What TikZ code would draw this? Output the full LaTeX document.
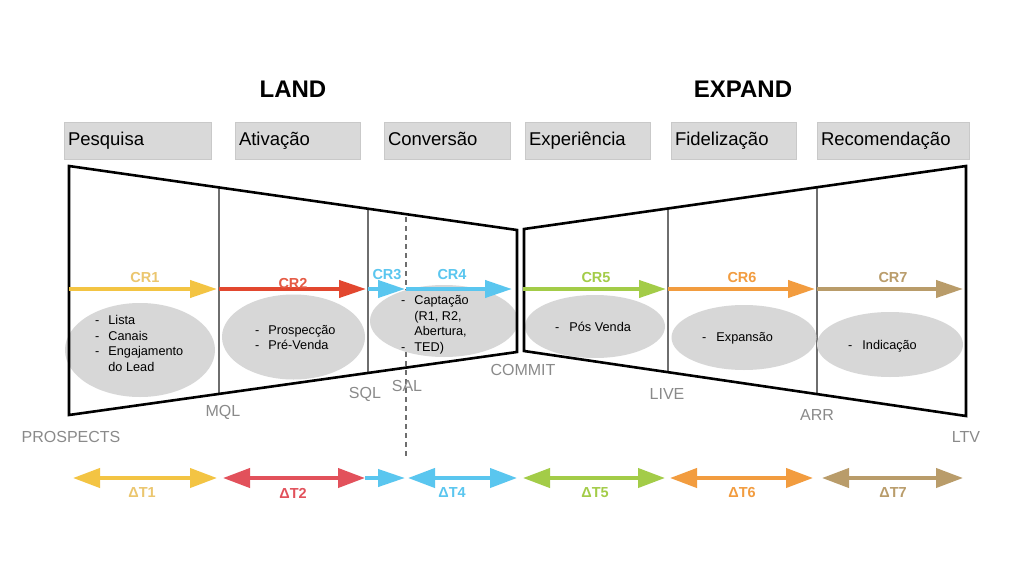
\documentclass[tikz,border=0pt]{standalone}
\usepackage{fontspec}
\setmainfont{Liberation Sans}
\usetikzlibrary{arrows.meta,calc,shapes.geometric}
\definecolor{cyel}{HTML}{F3C443}
\definecolor{cyelL}{HTML}{EBC66E}
\definecolor{cred}{HTML}{E2472F}
\definecolor{cpink}{HTML}{E2515B}
\definecolor{cblue}{HTML}{5AC6EF}
\definecolor{cgreen}{HTML}{A3CC48}
\definecolor{corange}{HTML}{F29C3F}
\definecolor{ctan}{HTML}{B99C6A}
\definecolor{boxgray}{HTML}{D9D9D9}
\definecolor{boxline}{HTML}{C9C9C9}
\definecolor{ellgray}{HTML}{D7D7D7}
\definecolor{divgray}{HTML}{6E6E6E}
\definecolor{lblgray}{HTML}{8A8A8A}
\tikzset{
  phasebox/.style={rectangle, fill=boxgray, draw=boxline, line width=0.6pt,
    minimum height=37pt, inner xsep=4pt, inner ysep=0pt, align=left,
    text height=14pt, text depth=4pt,
    font=\fontsize{18.5}{22}\selectfont},
  titletext/.style={font=\fontsize{24}{28}\selectfont\bfseries},
  funnel/.style={draw=black, line width=2.6pt, line join=miter},
  divider/.style={draw=divgray, line width=2pt},
  saldash/.style={draw=divgray, line width=1.5pt, dash pattern=on 5pt off 4pt},
  bubble/.style={ellipse, fill=ellgray, draw=none, inner sep=0pt},
  bubtext/.style={font=\fontsize{12.7}{15.5}\selectfont, inner sep=0pt, anchor=west},
  crarrow/.style={line width=4pt, -{Triangle[length=27pt,width=17pt]}},
  dtarrow/.style={line width=4pt, {Triangle[length=27pt,width=19pt]}-{Triangle[length=27pt,width=19pt]}},
  crlabel/.style={font=\fontsize{14.5}{16}\selectfont\bfseries, inner sep=0pt},
  stagelabel/.style={font=\fontsize{16}{18}\selectfont, text=lblgray, inner sep=0pt},
}
\begin{document}
\begin{tikzpicture}[x=1pt,y=-1pt]
\useasboundingbox[fill=white] (0,0) rectangle (1024,575);

% titles
\node[titletext] (land) at (293,89) {LAND};
\node[titletext] (expand) at (743,89) {EXPAND};

% phase boxes
\node[phasebox, minimum width=147pt, text width=139pt] (pesq) at (137.5,140.5) {Pesquisa};
\node[phasebox, minimum width=125pt, text width=117pt] (ativ) at (297.5,140.5) {Ativação};
\node[phasebox, minimum width=126pt, text width=118pt] (conv) at (447,140.5) {Conversão};
\node[phasebox, minimum width=125pt, text width=117pt] (expe) at (587.5,140.5) {Experiência};
\node[phasebox, minimum width=125pt, text width=117pt] (fide) at (733.5,140.5) {Fidelização};
\node[phasebox, minimum width=152pt, text width=144pt] (reco) at (893,140.5) {Recomendação};

% funnel corners
\coordinate (LTL) at (69,166);
\coordinate (LTR) at (517,230);
\coordinate (LBR) at (517,352);
\coordinate (LBL) at (69,415);
\coordinate (RTL) at (524,229);
\coordinate (RTR) at (966,166);
\coordinate (RBR) at (966,416);
\coordinate (RBL) at (524,351);

% dividers
\draw[divider] ($(LTL)!0.3348!(LTR)$) -- ($(LBL)!0.3348!(LBR)$);
\draw[divider] ($(LTL)!0.6674!(LTR)$) -- ($(LBL)!0.6674!(LBR)$);
\draw[divider] ($(RTL)!0.3258!(RTR)$) -- ($(RBL)!0.3258!(RBR)$);
\draw[divider] ($(RTL)!0.6629!(RTR)$) -- ($(RBL)!0.6629!(RBR)$);

% SAL dashed line
\coordinate (salT) at (406,217);
\coordinate (salB) at (406,458);
\draw[saldash] (salT) -- (salB);

% bubbles
\node[bubble, minimum width=150pt, minimum height=94pt] (e1) at (140,350) {};
\node[bubble, minimum width=143pt, minimum height=85pt] (e2) at (293.5,337) {};
\node[bubble, minimum width=148pt, minimum height=72pt] (e3) at (444,321) {};
\node[bubble, minimum width=140pt, minimum height=63pt] (e4) at (595,326.5) {};
\node[bubble, minimum width=145pt, minimum height=65pt] (e5) at (744,337.5) {};
\node[bubble, minimum width=146pt, minimum height=65pt] (e6) at (890,344.5) {};

\node[bubtext] (t1) at (95,345) {\begin{tabular}{@{}l@{\hspace{9pt}}l@{}}-&Lista\\-&Canais\\-&Engajamento\\&do Lead\end{tabular}};
\node[bubtext] (t2) at (255,339) {\begin{tabular}{@{}l@{\hspace{9pt}}l@{}}-&Prospecção\\-&Pré-Venda\end{tabular}};
\node[bubtext] (t3) at (401,325) {\begin{tabular}{@{}l@{\hspace{9pt}}l@{}}-&Captação\\&(R1, R2,\\&Abertura,\\-&TED)\end{tabular}};
\node[bubtext] (t4) at (555,327) {-\hspace{10pt}Pós Venda};
\node[bubtext] (t5) at (702,338) {-\hspace{10pt}Expansão};
\node[bubtext] (t6) at (848,346) {-\hspace{10pt}Indicação};

% funnel outlines
\draw[funnel] (LTL) -- (LTR) -- (LBR) -- (LBL) -- cycle;
\draw[funnel] (RTL) -- (RTR) -- (RBR) -- (RBL) -- cycle;

% CR arrows
\coordinate (c0) at (69,289);
\coordinate (c1) at (217,289);
\coordinate (c1b) at (219,289);
\coordinate (c2) at (366,289);
\coordinate (c2b) at (368,289);
\coordinate (c3) at (405,289);
\coordinate (c3b) at (406,289);
\coordinate (c4) at (512,289);
\coordinate (c5a) at (523,289);
\coordinate (c5) at (666,289);
\coordinate (c5b) at (668,289);
\coordinate (c6) at (815,289);
\coordinate (c6b) at (817,289);
\coordinate (c7) at (963,289);
\draw[crarrow, cyel] (c0) -- (c1);
\draw[crarrow, cred] (c1b) -- (c2);
\draw[crarrow, cblue] (c2b) -- (c3);
\draw[crarrow, cblue] (c3b) -- (c4);
\draw[crarrow, cgreen] (c5a) -- (c5);
\draw[crarrow, corange] (c5b) -- (c6);
\draw[crarrow, ctan] (c6b) -- (c7);

\node[crlabel, text=cyelL] (cr1) at (145,278) {CR1};
\node[crlabel, text=cred!90] (cr2) at (293,284) {CR2};
\node[crlabel, text=cblue] (cr3) at (387,275) {CR3};
\node[crlabel, text=cblue] (cr4) at (452,275) {CR4};
\node[crlabel, text=cgreen] (cr5) at (596,278) {CR5};
\node[crlabel, text=corange] (cr6) at (742,278) {CR6};
\node[crlabel, text=ctan] (cr7) at (893,278) {CR7};

% stage labels
\node[stagelabel] (prospects) at (71,437) {PROSPECTS};
\node[stagelabel] (mql) at (223,412) {MQL};
\node[stagelabel] (sql) at (365,394) {SQL};
\node[stagelabel] (sal) at (407,386) {SAL};
\node[stagelabel] (commit) at (523,370) {COMMIT};
\node[stagelabel] (live) at (667,394) {LIVE};
\node[stagelabel] (arr) at (817,415) {ARR};
\node[stagelabel] (ltv) at (966,437) {LTV};

% Delta T arrows
\coordinate (d1a) at (73,478);
\coordinate (d1b) at (217,478);
\coordinate (d2a) at (223,478);
\coordinate (d2b) at (365,478);
\coordinate (d3b) at (405,478);
\coordinate (d4a) at (408,478);
\coordinate (d4b) at (517,478);
\coordinate (d5a) at (523,478);
\coordinate (d5b) at (665,478);
\coordinate (d6a) at (670,478);
\coordinate (d6b) at (813,478);
\coordinate (d7a) at (822,478);
\coordinate (d7b) at (963,478);
\draw[dtarrow, cyel] (d1a) -- (d1b);
\draw[crarrow, cblue] (d2b) -- (d3b);
\draw[dtarrow, cpink] (d2a) -- (d2b);
\draw[dtarrow, cblue] (d4a) -- (d4b);
\draw[dtarrow, cgreen] (d5a) -- (d5b);
\draw[dtarrow, corange] (d6a) -- (d6b);
\draw[dtarrow, ctan] (d7a) -- (d7b);

\node[crlabel, text=cyelL] (dt1) at (142,493) {ΔT1};
\node[crlabel, text=cpink] (dt2) at (293,493) {ΔT2};
\node[crlabel, text=cblue] (dt4) at (452,493) {ΔT4};
\node[crlabel, text=cgreen] (dt5) at (595,493) {ΔT5};
\node[crlabel, text=corange] (dt6) at (742,493) {ΔT6};
\node[crlabel, text=ctan] (dt7) at (893,493) {ΔT7};
\end{tikzpicture}
\end{document}
